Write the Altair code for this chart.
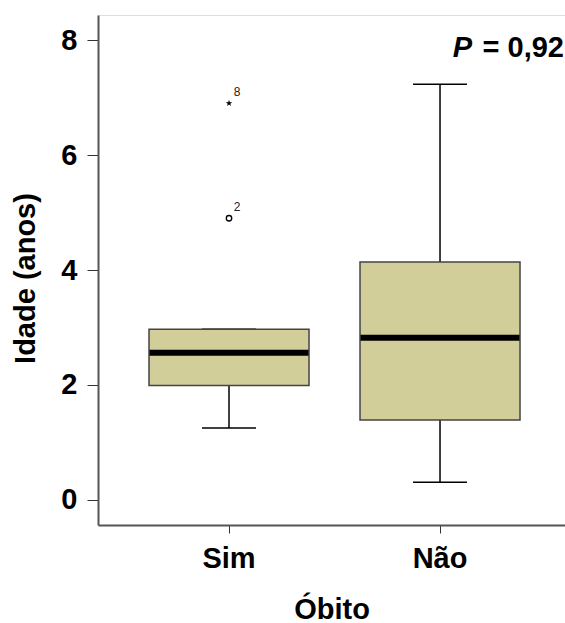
import altair as alt
import pandas as pd

# ---- data ----
categories = ["Sim", "Não"]
q1 = [1.99, 1.39]
median = [2.56, 2.82]
q3 = [2.97, 4.14]
whisker_low = [1.25, 0.31]
whisker_high = [2.97, 7.23]

outlier_group = ["Sim", "Sim"]
outlier_value = [6.90, 4.90]
outlier_case = ["8", "2"]
outlier_kind = ["extreme", "outlier"]

y_ticks = [0, 2, 4, 6, 8]
p_label = "P"
p_value = "= 0,92"

FONT = "Liberation Sans"
BIG = 29

box_df = pd.DataFrame({
    "group": categories, "q1": q1, "median": median, "q3": q3,
    "lo": whisker_low, "hi": whisker_high,
})
out_df = pd.DataFrame({
    "group": outlier_group, "value": outlier_value,
    "case": outlier_case, "kind": outlier_kind,
})

x_enc = alt.X(
    "group:N", sort=categories,
    scale=alt.Scale(domain=categories, paddingInner=0, paddingOuter=0.1066, align=0.567),
    axis=alt.Axis(
        title="Óbito", labelAngle=0, labelFontSize=BIG, labelFont=FONT, labelFontWeight="bold",
        labelColor="black", labelPadding=11, tickSize=8, tickColor="#333", tickWidth=1,
        domainColor="#555", domainWidth=2,
        titleFontSize=BIG, titleFont=FONT, titleFontWeight="bold", titleColor="black",
        titleY=93, titleBaseline="alphabetic",
    ),
)
y_scale = alt.Scale(domain=[-0.435, 8.435], nice=False, zero=False)
y_axis = alt.Axis(
    values=y_ticks, format="d", title="Idade (anos)", grid=False,
    labelFontSize=BIG, labelFont=FONT, labelFontWeight="bold", labelColor="black",
    labelPadding=10, tickSize=11, tickColor="#333", tickWidth=1,
    domainColor="#555", domainWidth=2,
    titleFontSize=BIG, titleFont=FONT, titleFontWeight="bold", titleColor="black",
    titleX=-73, titleY=263, titleAngle=-90, titleAlign="center", titleBaseline="middle",
)

base = alt.Chart(box_df)

whisk_low = base.mark_rule(color="black", strokeWidth=1.5, opacity=1).encode(
    x=x_enc, y=alt.Y("lo:Q", scale=y_scale, axis=y_axis), y2="q1:Q")
whisk_high = base.mark_rule(color="black", strokeWidth=1.5, opacity=1).encode(
    x=x_enc, y=alt.Y("q3:Q", scale=y_scale), y2="hi:Q")
cap_low = base.mark_tick(color="black", size=54, thickness=1.5, opacity=1).encode(
    x=x_enc, y=alt.Y("lo:Q", scale=y_scale))
cap_high = base.mark_tick(color="black", size=54, thickness=1.5, opacity=1).encode(
    x=x_enc, y=alt.Y("hi:Q", scale=y_scale))
box = base.mark_bar(size=160, color="#D2CE9A", stroke="#444", strokeWidth=1.5, opacity=1).encode(
    x=x_enc, y=alt.Y("q1:Q", scale=y_scale), y2="q3:Q")
med = base.mark_tick(color="black", size=159, thickness=6, opacity=1).encode(
    x=x_enc, y=alt.Y("median:Q", scale=y_scale))

STAR = ("M0,-1 L0.2245,-0.309 L0.951,-0.309 L0.363,0.118 L0.588,0.809 L0,0.382 "
        "L-0.588,0.809 L-0.363,0.118 L-0.951,-0.309 L-0.2245,-0.309 Z")
out_base = alt.Chart(out_df)
stars = out_base.transform_filter(alt.datum.kind == "extreme").mark_point(
    shape=STAR, filled=True, color="black", size=50, opacity=1).encode(
    x=x_enc, y=alt.Y("value:Q", scale=y_scale))
circles = out_base.transform_filter(alt.datum.kind == "outlier").mark_point(
    shape="circle", filled=False, color="black", size=30, strokeWidth=1.3, opacity=1).encode(
    x=x_enc, y=alt.Y("value:Q", scale=y_scale))
case_labels = out_base.mark_text(
    dx=8, dy=-11, fontSize=12, font=FONT, color="#222", align="center", baseline="middle").encode(
    x=x_enc, y=alt.Y("value:Q", scale=y_scale), text="case:N")

p_df = pd.DataFrame({"t": [p_label]})
v_df = pd.DataFrame({"t": [p_value]})
p_text = alt.Chart(p_df).mark_text(
    font=FONT, fontSize=BIG, fontWeight="bold", fontStyle="italic", align="right",
    baseline="alphabetic", color="black").encode(
    x=alt.value(374), y=alt.value(42), text="t:N")
v_text = alt.Chart(v_df).mark_text(
    font=FONT, fontSize=BIG, fontWeight="bold", align="right",
    baseline="alphabetic", color="black").encode(
    x=alt.value(466), y=alt.value(42), text="t:N")

chart = alt.layer(
    whisk_low, whisk_high, cap_low, cap_high, box, med, stars, circles, case_labels, p_text, v_text
).properties(
    width=467, height=510,
    autosize=alt.AutoSizeParams(type="none"),
    padding={"left": 98, "top": 15, "right": 0, "bottom": 98},
).configure_view(stroke=None).configure(background="white")

chart.save("out.html", embed_options={"renderer": "svg", "actions": False})
